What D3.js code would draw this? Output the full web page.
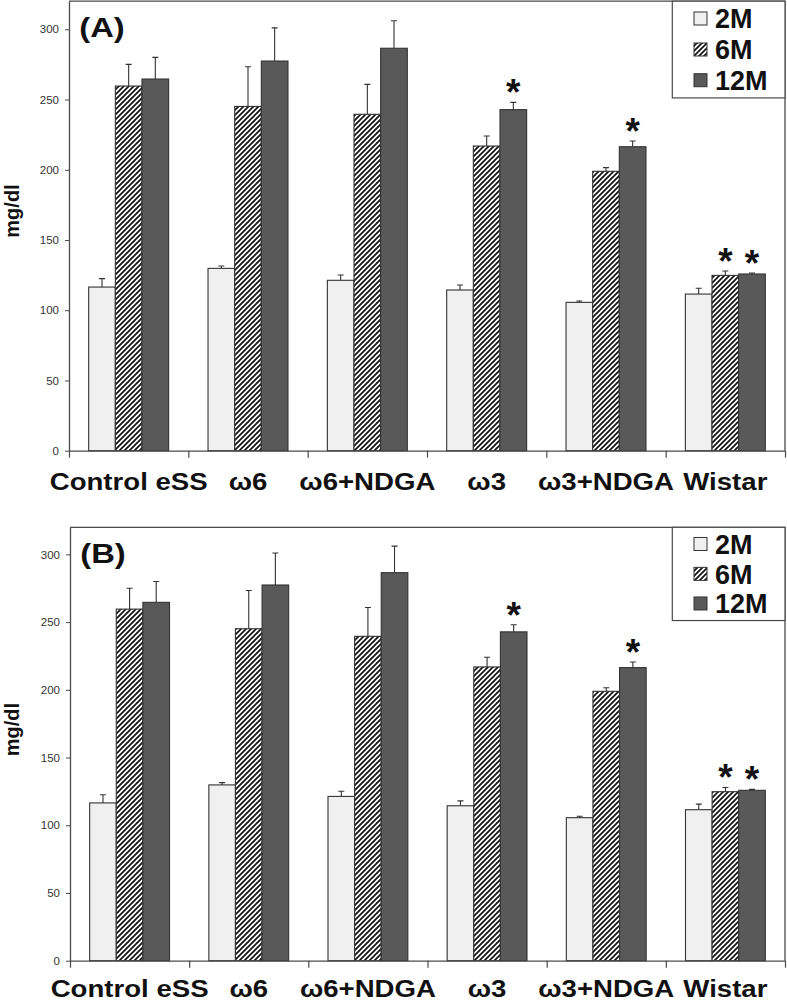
<!DOCTYPE html>
<html><head><meta charset="utf-8">
<script src="https://cdn.jsdelivr.net/npm/d3@7"></script>
<style>body{margin:0;background:#fff}svg{display:block}text{font-family:"Liberation Sans",Arial,sans-serif}</style>
</head><body>
<script>
// ---- data ----
const groups = ["Control eSS", "ω6", "ω6+NDGA", "ω3", "ω3+NDGA", "Wistar"];
const seriesNames = ["2M", "6M", "12M"];
const mean2M  = [116.5, 129.8, 121.3, 114.4, 105.6, 111.5];
const se2M    = [6.0, 1.7, 3.8, 3.6, 1.0, 4.1];
const mean6M  = [259.6, 245.1, 239.5, 216.9, 198.9, 124.8];
const se6M    = [15.4, 28.2, 21.3, 7.1, 2.6, 3.1];
const mean12M = [264.6, 277.4, 286.5, 242.8, 216.4, 125.8];
const se12M   = [15.4, 23.6, 19.6, 5.2, 4.1, 0.7];
const sig2M   = [false, false, false, false, false, false];
const sig6M   = [false, false, false, false, false, true];
const sig12M  = [false, false, false, true, true, true];
const yTicks  = [0, 50, 100, 150, 200, 250, 300];
const yMax    = 320;
const panelLabels = ["(A)", "(B)"];
const yLabel = "mg/dl";

const means = [mean2M, mean6M, mean12M];
const ses = [se2M, se6M, se12M];
const sigs = [sig2M, sig6M, sig12M];

// ---- layout ----
const W = 787, H = 1002;
const panels = [
  {top: 1.2, bottom: 450.7, left: 69, right: 785, lab: 39.3},
  {top: 527.3, bottom: 960.7, left: 70, right: 785, lab: 36.5}
];
const fills = ["#f0f0f0", "url(#hatch)", "#595959"];
const axisCol = "#4a4a4a";

const svg = d3.select("body").append("svg").attr("width", W).attr("height", H);
const defs = svg.append("defs");
const pat = defs.append("pattern").attr("id", "hatch").attr("patternUnits", "userSpaceOnUse")
  .attr("width", 5).attr("height", 5);
pat.append("rect").attr("width", 5).attr("height", 5).attr("fill", "#fff");
pat.append("path").attr("d", "M-1,1 l2,-2 M0,5 l5,-5 M4,6 l2,-2")
  .attr("stroke", "#111").attr("stroke-width", 1.7);

panels.forEach((p, pi) => {
  const g = svg.append("g");
  const y = d3.scaleLinear().domain([0, yMax]).range([p.bottom, p.top]);
  const x = d3.scaleBand().domain(groups).range([p.left, p.right]).paddingInner(0.33).paddingOuter(0.165);
  const xs = d3.scaleBand().domain(seriesNames).range([0, x.bandwidth()]);
  const xb = d3.scaleLinear().domain([0, groups.length]).range([p.left, p.right]);
  const k = (p.bottom - p.top) / (450.7 - 1.2);

  // frame (top + right)
  g.append("path").attr("d", `M${p.left},${p.top}H${p.right}V${p.bottom}`)
    .attr("fill", "none").attr("stroke", axisCol).attr("stroke-width", 1.3);

  // bars
  seriesNames.forEach((s, si) => {
    const bars = g.append("g");
    groups.forEach((grp, gi) => {
      const v = means[si][gi], e = ses[si][gi];
      const bx = x(grp) + xs(s), bw = xs.bandwidth();
      const cx = bx + bw / 2;
      bars.append("path")
        .attr("d", `M${cx},${y(v)}V${y(v + e)}M${cx - 3},${y(v + e)}H${cx + 3}`)
        .attr("stroke", "#333").attr("stroke-width", 1.1).attr("fill", "none");
      bars.append("rect").attr("x", bx).attr("y", y(v)).attr("width", bw).attr("height", y(0) - y(v))
        .attr("fill", fills[si]).attr("stroke", "#333").attr("stroke-width", 1.1);
      if (sigs[si][gi]) {
        bars.append("text").attr("x", cx).attr("y", y(v + e) + 3)
          .attr("text-anchor", "middle").attr("font-size", 37).attr("font-weight", "bold")
          .attr("fill", "#111").text("*");
      }
    });
  });

  // y axis
  const ya = g.append("g").attr("transform", `translate(${p.left},0)`)
    .call(d3.axisLeft(y).tickValues(yTicks).tickSize(4).tickPadding(6).tickSizeOuter(0));
  ya.select(".domain").attr("stroke", axisCol).attr("stroke-width", 1.3);
  ya.selectAll(".tick line").attr("stroke", axisCol);
  ya.selectAll(".tick text").attr("font-size", 11.5).attr("fill", "#333")
    .attr("font-family", "'Liberation Sans',Arial,sans-serif");

  // x axis (boundary ticks)
  const xa = g.append("g").attr("transform", `translate(0,${p.bottom})`)
    .call(d3.axisBottom(xb).tickValues(d3.range(groups.length + 1)).tickSize(7).tickFormat("").tickSizeOuter(0));
  xa.select(".domain").attr("stroke", axisCol).attr("stroke-width", 1.3);
  xa.selectAll(".tick line").attr("stroke", axisCol).attr("stroke-width", 1.2);

  // category labels
  groups.forEach(grp => {
    const cx = x(grp) + x.bandwidth() / 2;
    g.append("text").attr("transform", `translate(${cx},${p.bottom + p.lab}) scale(1.15,1)`)
      .attr("text-anchor", "middle").attr("font-size", 24).attr("font-weight", "bold")
      .attr("fill", "#111").text(grp);
  });

  // panel label
  g.append("text").attr("transform", `translate(${p.left + 10.3},${p.top + 35.9}) scale(1.17,1)`)
    .attr("font-size", 28).attr("font-weight", "bold").attr("fill", "#111").text(panelLabels[pi]);

  // y label
  const yc = p.top + (211 - 1.2) * k;
  g.append("text").attr("transform", `translate(19,${yc}) rotate(-90)`)
    .attr("text-anchor", "middle").attr("font-size", 20).attr("font-weight", "bold")
    .attr("fill", "#111").text(yLabel);

  // legend
  const lg = g.append("g");
  const lx0 = 672.3, lh = 96.7 * k;
  lg.append("rect").attr("x", lx0).attr("y", p.top).attr("width", p.right - lx0).attr("height", lh)
    .attr("fill", "#fff").attr("stroke", axisCol).attr("stroke-width", 1.2);
  const rows = [17.3, 48.3, 79];
  seriesNames.forEach((s, si) => {
    const ry = p.top + rows[si] * k;
    lg.append("rect").attr("x", 694).attr("y", ry - 6.5).attr("width", 13).attr("height", 13)
      .attr("fill", fills[si]).attr("stroke", "#333").attr("stroke-width", 1);
    lg.append("text").attr("x", 715).attr("y", ry + 9.7).attr("font-size", 27).attr("font-weight", "bold")
      .attr("fill", "#111").text(s);
  });
});
</script>
</body></html>
